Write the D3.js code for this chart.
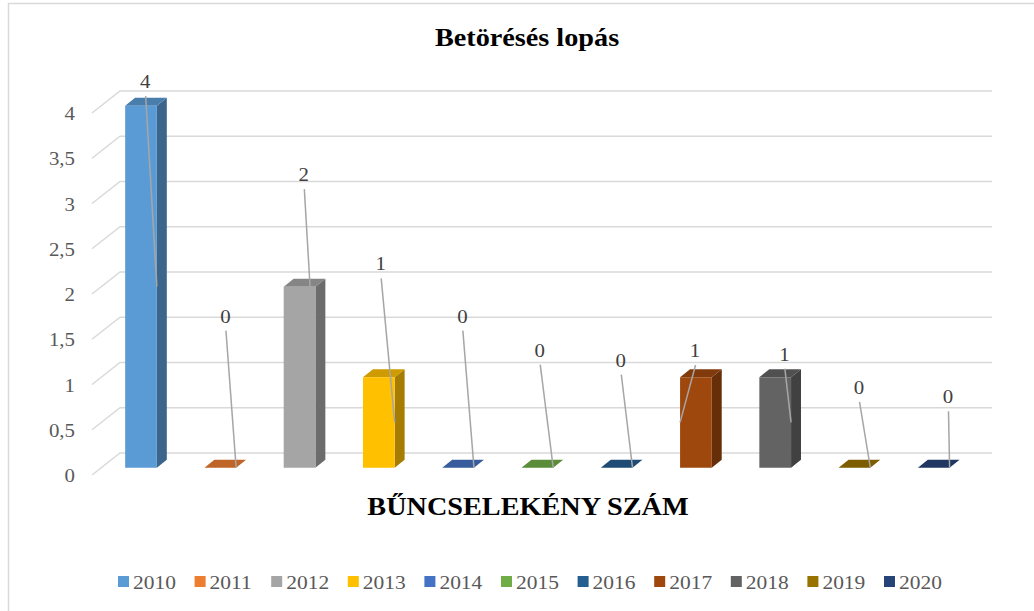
<!DOCTYPE html>
<html>
<head>
<meta charset="utf-8">
<script src="https://cdn.jsdelivr.net/npm/d3@7"></script>
<style>
body { margin: 0; background: #fff; }
svg { display: block; }
</style>
</head>
<body>
<div id="chart"></div>
<script>
// data
var years = ["2010", "2011", "2012", "2013", "2014", "2015", "2016", "2017", "2018", "2019", "2020"];
var counts = [4, 0, 2, 1, 0, 0, 0, 1, 1, 0, 0];
var colors = ["#5B9BD5", "#ED7D31", "#A5A5A5", "#FFC000", "#4472C4", "#70AD47",
              "#255E91", "#9E480E", "#636363", "#997300", "#264478"];
var yTicks = [0, 0.5, 1, 1.5, 2, 2.5, 3, 3.5, 4];
var title = "Betörésés lopás";
var axisTitle = "BŰNCSELEKÉNY SZÁM";

// data labels were dragged by hand in the workbook: offset from the leader line anchor
var labelDx = [-11.7, -10.7, -11.6, -14, -11.6, -13.5, -11.7, 15, -6.7, -11.3, -1.6];
var labelDy = [-198.7, -145, -196, -152, -145, -111, -101, -65.4, -61.7, -73.7, -64.4];
var anchorRight = [1, 1, 1, 1, 1, 1, 1, 0, 1, 1, 1];

var width = 1034,
    height = 611;
var font = "'Liberation Serif', Tinos, 'Times New Roman', serif";
var stretch = 1.13; // the pasted chart is a bit wider than tall

// oblique 3d depth
var DX = 28, DY = -22;
var d0 = 0.335, d1 = 0.69;

var svg = d3.select("#chart")
    .append("svg")
    .attr("width", width)
    .attr("height", height)
    .style("font-family", font);

svg.append("rect")
    .attr("x", 8.5).attr("y", 3.5)
    .attr("width", 1100).attr("height", 700)
    .attr("fill", "none")
    .attr("stroke", "#d9d9d9")
    .attr("stroke-width", 1.5);

var x = d3.scaleBand()
    .domain(years)
    .range([92, 964]);

var y = d3.scaleLinear()
    .domain([0, 4])
    .range([475, 113]);

function pt(px, py, d) {
    return [px + d * DX, py + d * DY];
}

function label(sel, tx, ty) {
    return sel.attr("transform", "translate(" + tx + "," + ty + ") scale(" + stretch + ",1)")
        .attr("font-family", font);
}

// gridlines: side wall + back wall
var grid = svg.append("g")
    .attr("stroke", "#d9d9d9")
    .attr("stroke-width", 1.5)
    .attr("fill", "none");

yTicks.forEach(function (t) {
    var a = pt(x.range()[0], y(t), 0),
        b = pt(x.range()[0], y(t), 1),
        c = pt(x.range()[1], y(t), 1);
    grid.append("path").attr("d", "M" + a + "L" + b + "L" + c);
});

// y axis labels
var yl = svg.append("g");
yTicks.forEach(function (t) {
    label(yl.append("text"), 75, y(t) + 7)
        .attr("text-anchor", "end")
        .attr("font-size", 18.5)
        .attr("fill", "#595959")
        .text(String(t).replace(".", ","));
});

var barW = x.bandwidth() * 0.4;

function barGeom(i) {
    var bx0 = x(years[i]) + (x.bandwidth() - barW) / 2,
        bx1 = bx0 + barW,
        top = y(counts[i]),
        bot = y(0);
    return { bx0: bx0, bx1: bx1, top: top, bot: bot };
}

function poly(pts) {
    return "M" + pts.join("L") + "Z";
}

var bars = svg.append("g")
    .selectAll("g")
    .data(years)
    .enter().append("g");

bars.append("path")
    .attr("d", function (d, i) {
        var g = barGeom(i);
        return poly([pt(g.bx1, g.top, d0), pt(g.bx1, g.top, d1), pt(g.bx1, g.bot, d1), pt(g.bx1, g.bot, d0)]);
    })
    .attr("fill", function (d, i) { return d3.color(colors[i]).darker(1.2); });

bars.append("path")
    .attr("d", function (d, i) {
        var g = barGeom(i);
        return poly([pt(g.bx0, g.top, d0), pt(g.bx1, g.top, d0), pt(g.bx1, g.top, d1), pt(g.bx0, g.top, d1)]);
    })
    .attr("fill", function (d, i) { return d3.color(colors[i]).darker(0.6); });

bars.append("path")
    .attr("d", function (d, i) {
        var g = barGeom(i);
        return poly([pt(g.bx0, g.top, d0), pt(g.bx1, g.top, d0), pt(g.bx1, g.bot, d0), pt(g.bx0, g.bot, d0)]);
    })
    .attr("fill", function (d, i) { return colors[i]; });

// data labels with leader lines
var labels = svg.append("g");
years.forEach(function (yr, i) {
    var g = barGeom(i);
    var anchor = pt(anchorRight[i] ? g.bx1 : g.bx0, y(counts[i] / 2), d0);
    var lx = anchor[0] + labelDx[i],
        ly = anchor[1] + labelDy[i];
    labels.append("line")
        .attr("x1", lx + 0.5).attr("y1", ly + 8)
        .attr("x2", anchor[0]).attr("y2", anchor[1])
        .attr("stroke", "#a6a6a6")
        .attr("stroke-width", 1.5);
    label(labels.append("text"), lx, ly)
        .attr("text-anchor", "middle")
        .attr("font-size", 18.5)
        .attr("fill", "#404040")
        .text(counts[i]);
});

// titles
label(svg.append("text"), 527, 46)
    .attr("text-anchor", "middle")
    .attr("font-size", 25)
    .attr("font-weight", "bold")
    .attr("fill", "#000")
    .text(title);

label(svg.append("text"), 528, 515)
    .attr("text-anchor", "middle")
    .attr("font-size", 25)
    .attr("font-weight", "bold")
    .attr("fill", "#000")
    .text(axisTitle);

// legend
var legend = svg.append("g")
    .selectAll("g")
    .data(years)
    .enter().append("g")
    .attr("transform", function (d, i) { return "translate(" + (118 + i * 76.6) + ",0)"; });

legend.append("rect")
    .attr("x", 0).attr("y", 576)
    .attr("width", 11).attr("height", 11)
    .attr("fill", function (d, i) { return colors[i]; });

legend.each(function (d) {
    label(d3.select(this).append("text"), 15, 589)
        .attr("font-size", 19)
        .attr("fill", "#595959")
        .text(d);
});
</script>
</body>
</html>
